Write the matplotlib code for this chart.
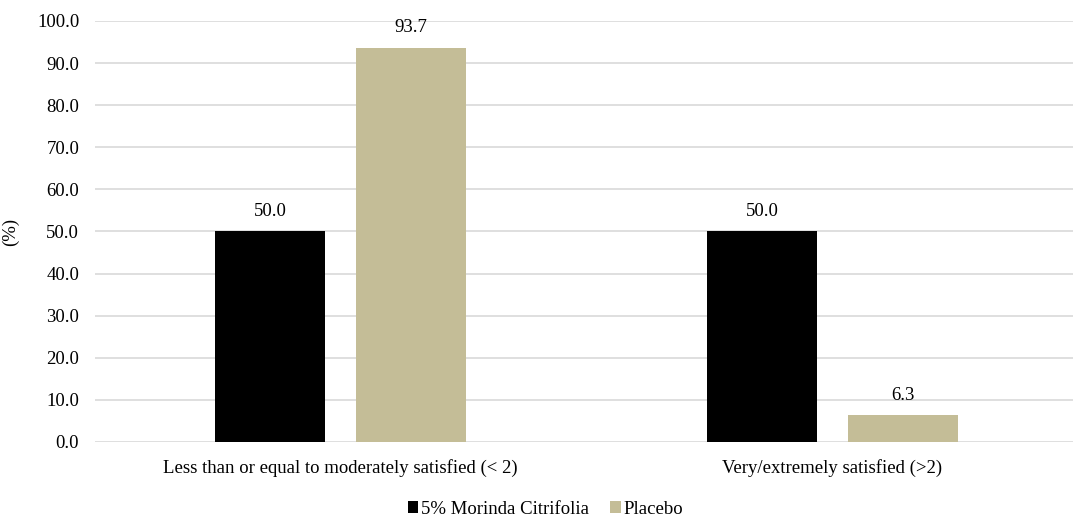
import matplotlib
matplotlib.use("Agg")
import matplotlib.pyplot as plt
import numpy as np

categories = ["Less than or equal to moderately satisfied (< 2)",
              "Very/extremely satisfied (>2)"]
series_names = ["5% Morinda Citrifolia", "Placebo"]
morinda = [50.0, 50.0]
placebo = [93.7, 6.3]
y_ticks = [0, 10, 20, 30, 40, 50, 60, 70, 80, 90, 100]

plt.rcParams["font.family"] = ["Liberation Serif", "DejaVu Serif"]
FS = 13.5

fig = plt.figure(figsize=(10.73, 5.18), dpi=100)
ax = fig.add_axes([94.5 / 1073, 1 - 442 / 518, 984 / 1073, 421 / 518])

x = np.arange(len(categories))
w = 0.225
off = 0.1435
colors = ["#000000", "#C4BD97"]
for vals, dx, c, name in zip([morinda, placebo], [-off, off], colors, series_names):
    bars = ax.bar(x + dx, vals, width=w, color=c, label=name, zorder=3)
    for b, v in zip(bars, vals):
        ax.annotate(f"{v:.1f}", (b.get_x() + b.get_width() / 2, v),
                    xytext=(0, 11), textcoords="offset points",
                    ha="center", va="baseline", fontsize=FS, color="#000000")

ax.set_xlim(-0.5, 1.5)
ax.set_ylim(0, 100)
ax.set_yticks(y_ticks)
ax.set_yticklabels([f"{t:.1f}" for t in y_ticks], fontsize=FS)
ax.set_xticks(x)
ax.set_xticklabels(categories, fontsize=FS)
ax.tick_params(axis="y", length=0, pad=11)
ax.tick_params(axis="x", length=0, pad=12)
ax.grid(axis="y", color="#D9D9D9", linewidth=1.2, zorder=0)
for s in ax.spines.values():
    s.set_visible(False)
ax.set_ylabel("(%)", fontsize=FS)
ax.yaxis.set_label_coords((19 - 94.5) / 984, 0.5)

handles, labels = ax.get_legend_handles_labels()
fig.legend(handles, labels, loc="center", bbox_to_anchor=(0.5 + 9 / 1073, 1 - 509 / 518),
           ncol=2, frameon=False, fontsize=FS, handlelength=0.55, handleheight=0.55,
           handletextpad=0.15, columnspacing=1.15)

fig.savefig("out.png", dpi=100)
